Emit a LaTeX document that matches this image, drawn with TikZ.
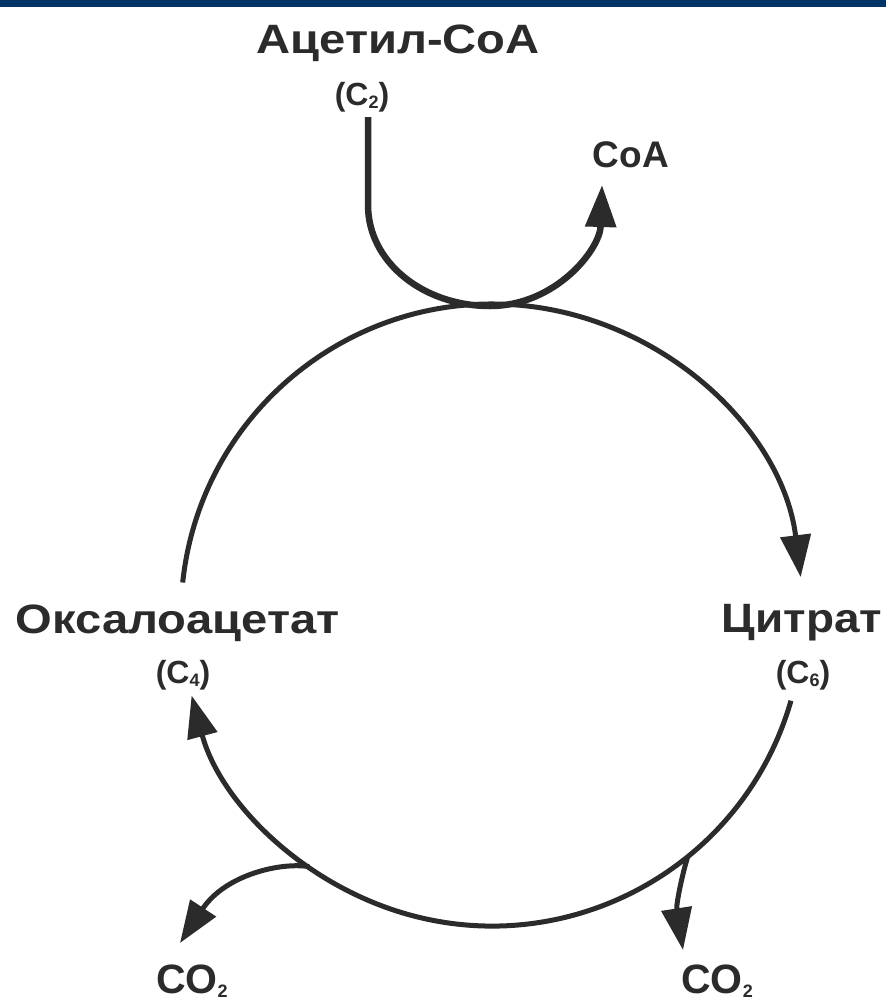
\documentclass[tikz,border=0pt]{standalone}
\usepackage{fontspec}
\setmainfont{Liberation Sans}
\usetikzlibrary{arrows.meta}
\definecolor{ink}{HTML}{2B2B2B}
\definecolor{navy}{HTML}{003366}
\newcommand{\lowidx}[1]{\raisebox{-0.1em}{\fontsize{18}{18}\selectfont #1}}
\begin{document}
\begin{tikzpicture}[x=1pt,y=-1pt,
  lab/.style={font=\fontsize{41}{41}\selectfont\bfseries, inner sep=0pt, anchor=base, text=ink},
  carb/.style={font=\fontsize{32}{32}\selectfont\bfseries, inner sep=0pt, anchor=base, text=ink},
  cyc/.style={draw=ink, line width=5pt},
  feed/.style={draw=ink, line width=6.5pt},
  tip/.style={-{Triangle[length=42pt,width=30pt]}}
]
\fill[white] (0,0) rectangle (886,1002);
\fill[navy] (0,0) rectangle (886,7);
\useasboundingbox (0,0) rectangle (886,1002);

% labels
\node[lab] (acetyl) at (398,53) {\scalebox{1.15}[1]{Ацетил-CoA}};
\node[carb] (c2) at (362,105) {(C\lowidx{2})};
\node[lab, font=\fontsize{37}{37}\selectfont\bfseries] (coa) at (631,167) {CoA};
\node[lab] (oxa) at (178,633) {\scalebox{1.15}[1]{Оксалоацетат}};
\node[carb] (c4) at (183,683) {(C\lowidx{4})};
\node[lab] (cit) at (802,632) {\scalebox{1.12}[1]{Цитрат}};
\node[carb] (c6) at (803,683) {(C\lowidx{6})};
\node[lab] (co2l) at (192,993) {CO\lowidx{2}};
\node[lab] (co2r) at (717,993) {CO\lowidx{2}};

% cycle
\coordinate (ctr) at (492,615);
\coordinate (jl) at ([shift={(126:311)}]ctr);
\coordinate (jr) at ([shift={(51:311)}]ctr);
\draw[cyc,tip] ([shift={(186:311)}]ctr) arc[start angle=186, end angle=353, radius=311];
\draw[cyc,tip] ([shift={(16:311)}]ctr) arc[start angle=16, end angle=165, radius=311];

% CO2 branches
\coordinate (tipl) at (180,943);
\coordinate (tipr) at (683,950);
\draw[cyc,tip] (jl) .. controls (280,862) and (225,875) .. (tipl);
\draw[cyc,tip] (jr) .. controls (682,875) and (676,905) .. (tipr);

% acetyl-CoA entry and CoA release
\coordinate (acin) at (368,117);
\coordinate (tipc) at (602,185);
\draw[feed,tip] (acin) -- (368,205) .. controls (368,262) and (423,306) .. (490,306)
  .. controls (555,306) and (600,250) .. (tipc);
\end{tikzpicture}
\end{document}
